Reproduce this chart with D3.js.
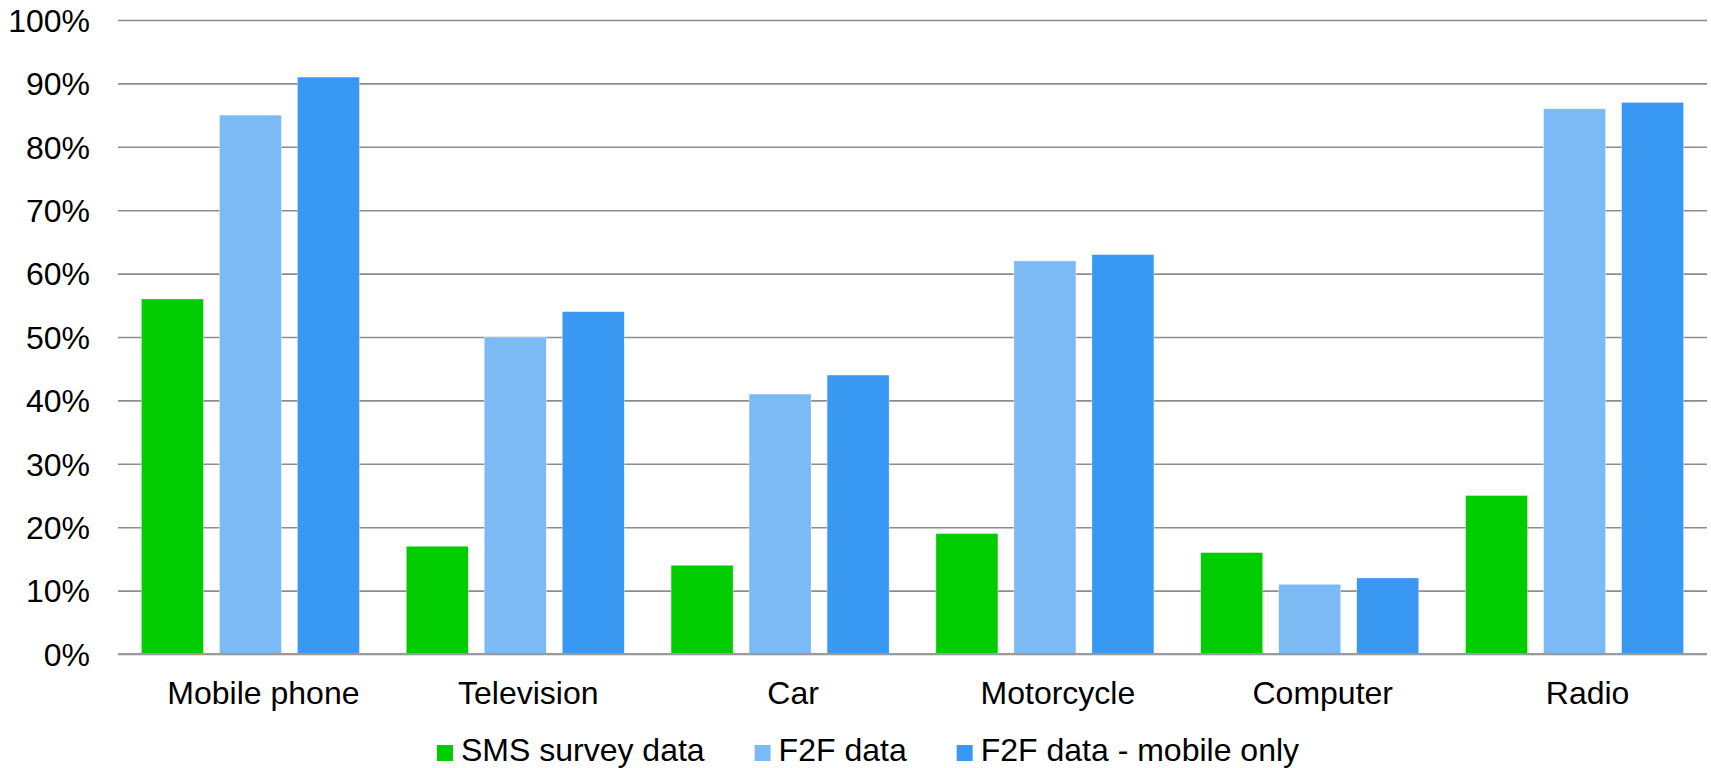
<!DOCTYPE html>
<html>
<head>
<meta charset="utf-8">
<script src="https://cdn.jsdelivr.net/npm/d3@7"></script>
<style>
  html, body { margin: 0; padding: 0; background: #fff; }
  svg { display: block; }
  text { font-family: "Liberation Sans", Arial, sans-serif; fill: #000; }
</style>
</head>
<body>
<svg id="chart" width="1711" height="768"></svg>
<script>
// Ownership of household assets, by data source
const categories = ["Mobile phone", "Television", "Car", "Motorcycle", "Computer", "Radio"];
const seriesNames = ["SMS survey data", "F2F data", "F2F data - mobile only"];
const smsSurvey = [0.56, 0.17, 0.14, 0.19, 0.16, 0.25];
const f2fData = [0.85, 0.50, 0.41, 0.62, 0.11, 0.86];
const f2fMobileOnly = [0.91, 0.54, 0.44, 0.63, 0.12, 0.87];
const yTicks = [0, 0.1, 0.2, 0.3, 0.4, 0.5, 0.6, 0.7, 0.8, 0.9, 1.0];

const seriesValues = [smsSurvey, f2fData, f2fMobileOnly];
const colors = ["#00cc00", "#7cbaf6", "#3898f2"];

const svg = d3.select("#chart");
const plot = { left: 118, right: 1707, top: 20, bottom: 654 };
const fontSize = 32;

const x = d3.scaleBand().domain(categories).range([plot.left, plot.right]).paddingInner(0).paddingOuter(0);
const xInner = d3.scaleBand().domain(seriesNames).range([0, x.bandwidth()])
  .paddingInner(0.205).paddingOuter(0.3);
const y = d3.scaleLinear().domain([0, 1]).range([plot.bottom, plot.top]);

// Horizontal gridlines and percent labels
const yAxis = d3.axisLeft(y).tickValues(yTicks).tickFormat(d3.format(".0%"))
  .tickSize(-(plot.right - plot.left)).tickPadding(28);
const gy = svg.append("g").attr("transform", `translate(${plot.left},0)`).call(yAxis);
gy.select(".domain").remove();
gy.selectAll(".tick line").attr("stroke", "#8d8d8d").attr("stroke-width", 1.6);
gy.selectAll(".tick text").attr("font-size", fontSize).attr("font-family", null)
  .attr("dy", "0.35em").style("fill", "#000");

// Bars
const rows = categories.map((c, i) => ({ category: c, values: seriesNames.map((s, k) => ({ series: s, k, value: seriesValues[k][i] })) }));
const groups = svg.append("g").selectAll("g").data(rows).join("g")
  .attr("transform", d => `translate(${x(d.category)},0)`);
groups.selectAll("rect").data(d => d.values).join("rect")
  .attr("x", d => xInner(d.series))
  .attr("width", xInner.bandwidth())
  .attr("y", d => y(d.value))
  .attr("height", d => y(0) - y(d.value))
  .attr("fill", d => colors[d.k])
  .attr("stroke", "#fff").attr("stroke-width", 0.6).attr("stroke-opacity", 0.6);

// Baseline
svg.append("line").attr("x1", plot.left).attr("x2", plot.right)
  .attr("y1", y(0)).attr("y2", y(0)).attr("stroke", "#9a9a9a").attr("stroke-width", 2);

// Category labels
const xAxis = d3.axisBottom(x).tickSize(0).tickPadding(0);
const gx = svg.append("g").attr("transform", `translate(13,0)`).call(xAxis);
gx.select(".domain").remove();
gx.selectAll(".tick text").attr("font-size", fontSize).attr("font-family", null)
  .attr("y", 704).attr("dy", null).style("fill", "#000");

// Legend, centred below the plot
const legend = svg.append("g");
const items = legend.selectAll("g").data(seriesNames).join("g");
items.append("rect").attr("width", 16).attr("height", 16).attr("y", 745)
  .attr("fill", (d, i) => colors[i]);
items.append("text").attr("x", 24).attr("y", 761).attr("font-size", fontSize).text(d => d);
let cursor = 0;
items.each(function () {
  const g = d3.select(this);
  g.attr("transform", `translate(${cursor},0)`);
  const w = 24 + g.select("text").node().getComputedTextLength();
  cursor += w + 50;
});
const legendWidth = cursor - 50;
legend.attr("transform", `translate(${868 - legendWidth / 2},0)`);
</script>
</body>
</html>
